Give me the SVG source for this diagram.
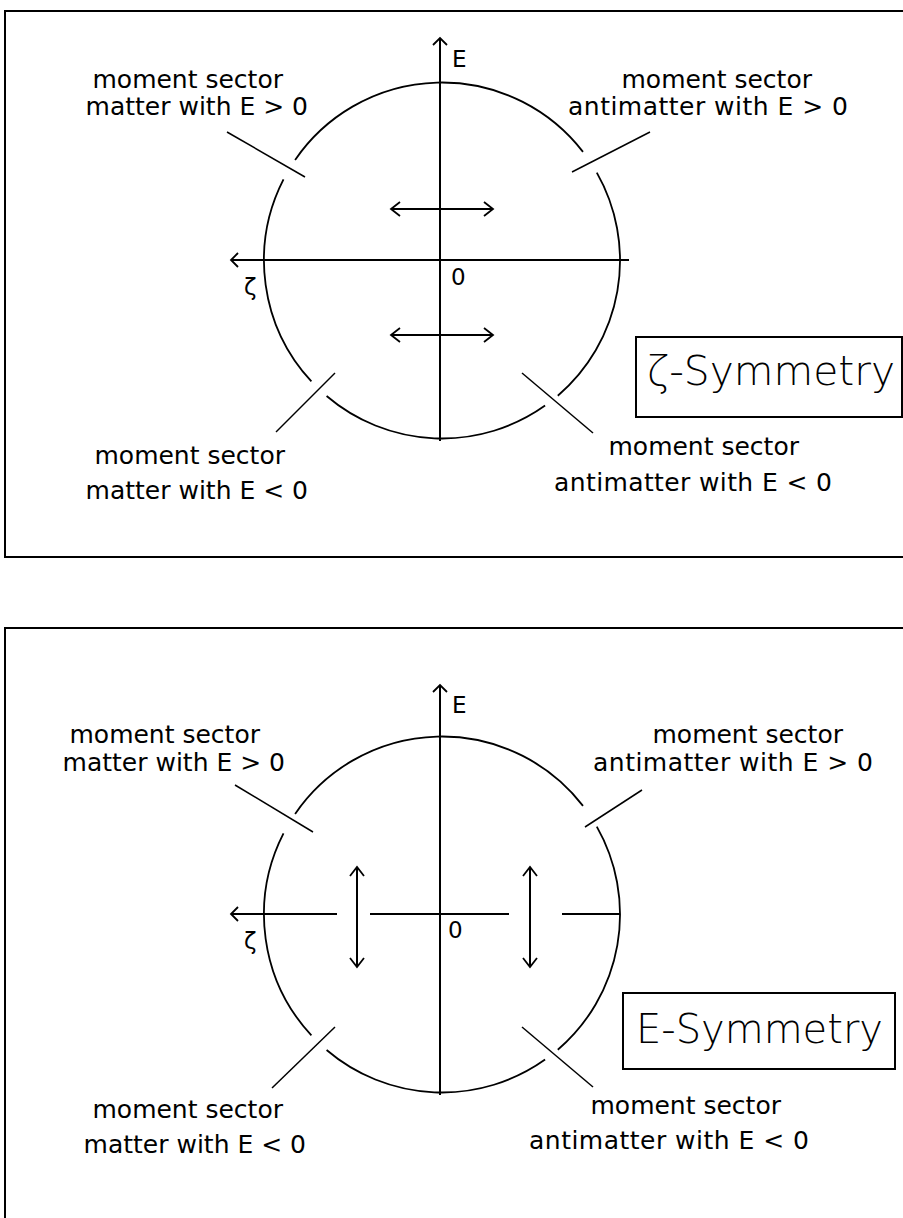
<svg xmlns="http://www.w3.org/2000/svg" width="903" height="1218" viewBox="0 0 903 1218">
<style>
text { font-family: "DejaVu Sans", "Liberation Sans", sans-serif; fill: #000; }
.lbl { font-size: 25px; text-anchor: end; }
.ax { font-size: 23px; }
.title { font-size: 41px; font-weight: 300; }
.frame { fill: none; stroke: #000; stroke-width: 2; }
.axis { fill: none; stroke: #000; stroke-width: 2; }
.arc { fill: none; stroke: #000; stroke-width: 1.8; }
.sec { fill: none; stroke: #000; stroke-width: 1.5; }
.dbl { fill: none; stroke: #000; stroke-width: 2; marker-start: url(#ah); marker-end: url(#ah); }
.axh { marker-end: url(#axh); }
</style>
<defs>
<marker id="ah" markerUnits="userSpaceOnUse" markerWidth="24" markerHeight="24" viewBox="-12 -12 24 24" refX="0" refY="0" orient="auto-start-reverse" overflow="visible">
<path d="M-9,-7 L0,0 L-9,7" fill="none" stroke="#000" stroke-width="1.8"/>
</marker>
<marker id="axh" markerUnits="userSpaceOnUse" markerWidth="24" markerHeight="24" viewBox="-12 -12 24 24" refX="0" refY="0" orient="auto" overflow="visible">
<path d="M-7,-7 L0,0 L-7,7" fill="none" stroke="#000" stroke-width="1.8"/>
</marker>
</defs>

<g id="panel-zeta">
<rect id="frame-top" class="frame" x="5" y="11" width="1000" height="546"/>
<g id="circle-top">
<path class="arc" d="M295.1,159.9 A178,178 0 0 1 583.0,151.9"/>
<path class="arc" d="M596.8,172.6 A178,178 0 0 1 557.8,395.7"/>
<path class="arc" d="M545.1,405.6 A178,178 0 0 1 326.6,396.0"/>
<path class="arc" d="M311.4,381.4 A178,178 0 0 1 283.5,179.4"/>
</g>
<g id="connectors-top">
<path class="axis axh" d="M440,441 L440,38"/>
<path class="axis axh" d="M629,260 L231,260"/>
<path class="dbl" d="M391,209 L493,209"/>
<path class="dbl" d="M391,335 L493,335"/>
<path class="sec" d="M227,132 L305,177"/>
<path class="sec" d="M650,132 L572,172"/>
<path class="sec" d="M335,373 L276,432"/>
<path class="sec" d="M522,373 L593,433"/>
</g>
<g id="labels-top">
<text class="ax" x="452" y="67">E</text>
<text class="ax" x="451" y="285">0</text>
<text class="ax" x="244" y="295">ζ</text>
</g>
<g id="sector-tl-top"><text class="lbl" x="283" y="88">moment sector</text><text class="lbl" x="308" y="115">matter with E &gt; 0</text></g>
<g id="sector-tr-top"><text class="lbl" x="812" y="88">moment sector</text><text class="lbl" x="848" y="115" textLength="280" lengthAdjust="spacing">antimatter with E &gt; 0</text></g>
<g id="sector-bl-top"><text class="lbl" x="285" y="464">moment sector</text><text class="lbl" x="308" y="499">matter with E &lt; 0</text></g>
<g id="sector-br-top"><text class="lbl" x="799" y="455">moment sector</text><text class="lbl" x="832" y="491" textLength="278" lengthAdjust="spacing">antimatter with E &lt; 0</text></g>
<g id="title-zeta">
<rect class="frame" x="636" y="337" width="266" height="80"/>
<text class="title" x="647" y="385" textLength="248" lengthAdjust="spacingAndGlyphs">ζ-Symmetry</text>
</g>
</g>

<g id="panel-e">
<rect id="frame-bottom" class="frame" x="5" y="628" width="1000" height="700"/>
<g id="circle-bottom">
<path class="arc" d="M295.1,813.9 A178,178 0 0 1 583.0,805.9"/>
<path class="arc" d="M596.8,826.6 A178,178 0 0 1 557.8,1049.7"/>
<path class="arc" d="M545.1,1059.6 A178,178 0 0 1 326.6,1050.0"/>
<path class="arc" d="M311.4,1035.4 A178,178 0 0 1 283.5,833.4"/>
</g>
<g id="connectors-bottom">
<path class="axis axh" d="M440,1095 L440,685"/>
<path class="axis axh" d="M337,914 L231,914"/>
<path class="axis" d="M370,914 L509,914"/>
<path class="axis" d="M562,914 L620,914"/>
<path class="dbl" d="M357,867 L357,967"/>
<path class="dbl" d="M530,867 L530,967"/>
<path class="sec" d="M235,785 L313,832"/>
<path class="sec" d="M642,790 L585,827"/>
<path class="sec" d="M335,1027 L272,1088"/>
<path class="sec" d="M522,1027 L593,1087"/>
</g>
<g id="labels-bottom">
<text class="ax" x="452" y="713">E</text>
<text class="ax" x="448" y="938">0</text>
<text class="ax" x="244" y="949">ζ</text>
</g>
<g id="sector-tl-bottom"><text class="lbl" x="260" y="743">moment sector</text><text class="lbl" x="285" y="771">matter with E &gt; 0</text></g>
<g id="sector-tr-bottom"><text class="lbl" x="843" y="743">moment sector</text><text class="lbl" x="873" y="771" textLength="280" lengthAdjust="spacing">antimatter with E &gt; 0</text></g>
<g id="sector-bl-bottom"><text class="lbl" x="283" y="1118">moment sector</text><text class="lbl" x="306" y="1153">matter with E &lt; 0</text></g>
<g id="sector-br-bottom"><text class="lbl" x="781" y="1114">moment sector</text><text class="lbl" x="809" y="1149" textLength="280" lengthAdjust="spacing">antimatter with E &lt; 0</text></g>
<g id="title-e">
<rect class="frame" x="623" y="993" width="272" height="76"/>
<text class="title" x="636" y="1043" textLength="247" lengthAdjust="spacingAndGlyphs">E-Symmetry</text>
</g>
</g>
</svg>
